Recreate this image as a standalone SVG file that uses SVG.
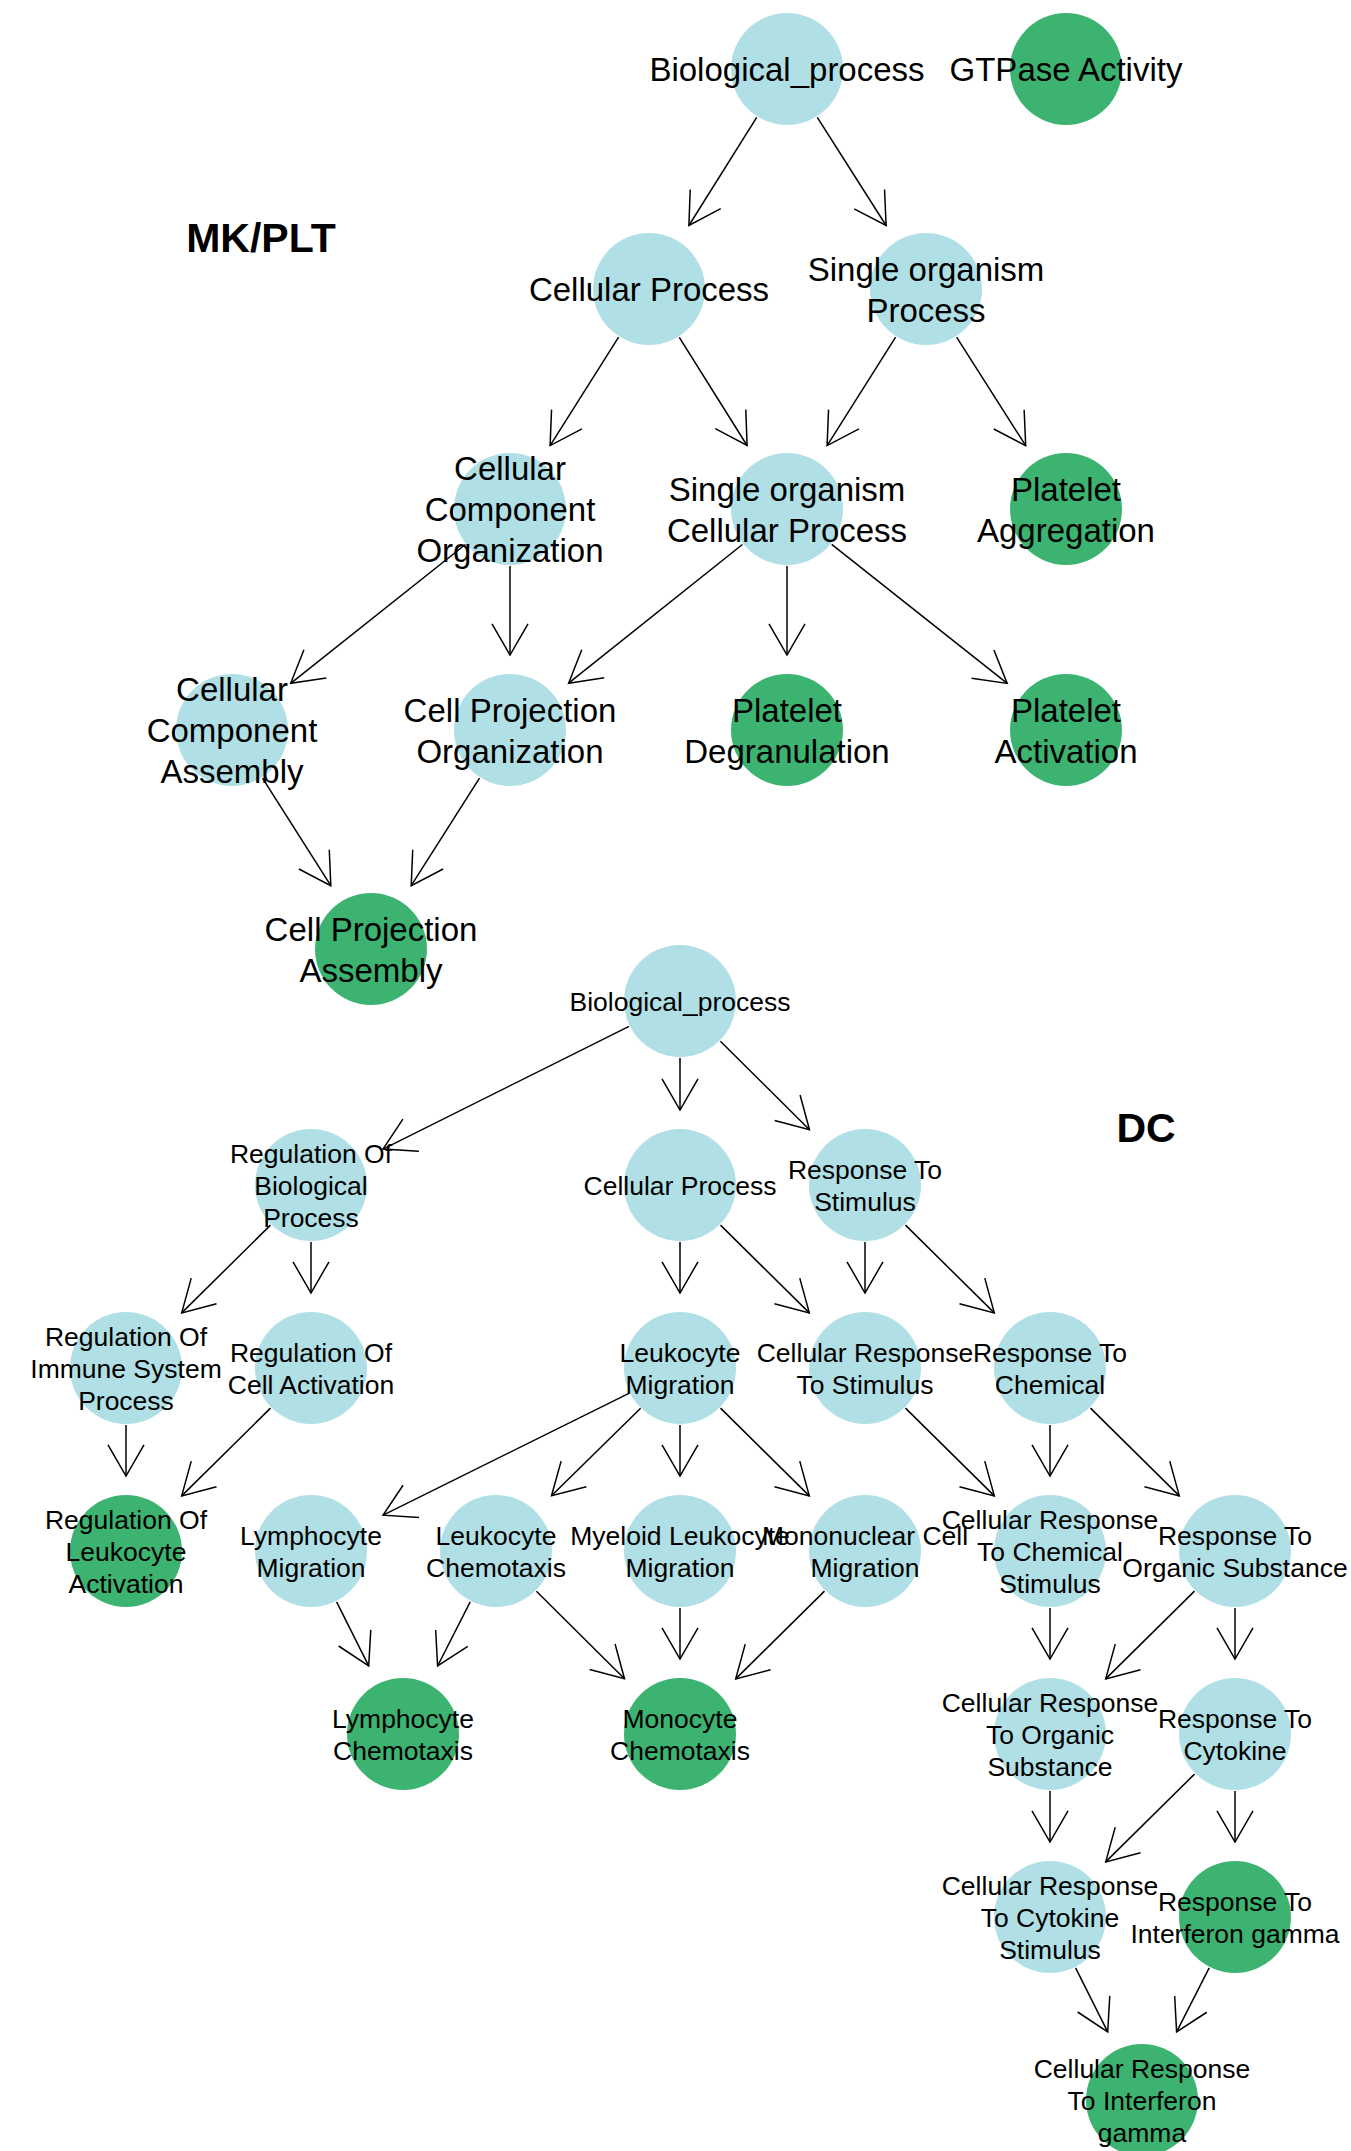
<svg xmlns="http://www.w3.org/2000/svg" width="1351" height="2151" viewBox="0 0 1351 2151">
<style>
.bl{fill:#B0E0E6}
.gr{fill:#3CB371}
text{font-family:"Liberation Sans",Arial,Helvetica,sans-serif;fill:#000;text-anchor:middle}
.t{font-size:33px}
.b{font-size:26.5px}
.h{font-size:41px;font-weight:bold}
#edges line{stroke:#000;stroke-width:1.5;fill:none;marker-end:url(#arr)}
</style>
<defs>
<marker id="arr" markerUnits="userSpaceOnUse" orient="auto" refX="0" refY="0" markerWidth="80" markerHeight="80" viewBox="-40 -40 80 80" overflow="visible">
<path d="M-31.2,-18 L0,0 L-31.2,18" fill="none" stroke="#000" stroke-width="1.5"/>
</marker>
</defs>
<rect width="1351" height="2151" fill="#fff"/>
<g id="edges">
<line x1="756.7" y1="117.3" x2="688.9" y2="225.5"/>
<line x1="817.3" y1="117.3" x2="886.1" y2="225.5"/>
<line x1="618.6" y1="337.2" x2="550.1" y2="445.6"/>
<line x1="679.3" y1="337.3" x2="747.1" y2="445.5"/>
<line x1="895.6" y1="337.2" x2="827.1" y2="445.6"/>
<line x1="956.6" y1="337.1" x2="1025.7" y2="445.7"/>
<line x1="465.4" y1="544.5" x2="290.7" y2="683.3"/>
<line x1="510" y1="566" x2="510" y2="655"/>
<line x1="742.4" y1="544.5" x2="568.6" y2="683.2"/>
<line x1="787" y1="566" x2="787" y2="655"/>
<line x1="831.7" y1="544.4" x2="1007.2" y2="683.4"/>
<line x1="262.5" y1="778.1" x2="330.8" y2="885.7"/>
<line x1="479.5" y1="778.1" x2="411.2" y2="885.7"/>
<line x1="629" y1="1026.4" x2="383" y2="1149.1"/>
<line x1="680" y1="1058" x2="680" y2="1110"/>
<line x1="720.4" y1="1041.2" x2="809.5" y2="1129.8"/>
<line x1="270.5" y1="1225.1" x2="181.7" y2="1312.9"/>
<line x1="311" y1="1242" x2="311" y2="1293"/>
<line x1="680" y1="1242" x2="680" y2="1293"/>
<line x1="720.5" y1="1225.1" x2="809.3" y2="1312.9"/>
<line x1="865" y1="1242" x2="865" y2="1293"/>
<line x1="905.5" y1="1225.1" x2="994.3" y2="1312.9"/>
<line x1="126" y1="1425" x2="126" y2="1476"/>
<line x1="270.5" y1="1408.1" x2="181.7" y2="1495.9"/>
<line x1="628.9" y1="1393.3" x2="383.1" y2="1515.2"/>
<line x1="640.6" y1="1408.2" x2="551.5" y2="1495.8"/>
<line x1="680" y1="1425" x2="680" y2="1476"/>
<line x1="720.5" y1="1408.1" x2="809.3" y2="1495.9"/>
<line x1="905.5" y1="1408.1" x2="994.3" y2="1495.9"/>
<line x1="1050" y1="1425" x2="1050" y2="1476"/>
<line x1="1090.5" y1="1408.1" x2="1179.3" y2="1495.9"/>
<line x1="336.6" y1="1601.9" x2="368.7" y2="1665.8"/>
<line x1="470.2" y1="1601.8" x2="437.6" y2="1666"/>
<line x1="536.4" y1="1591.2" x2="624.5" y2="1678.8"/>
<line x1="680" y1="1608" x2="680" y2="1659"/>
<line x1="824.5" y1="1591.1" x2="735.7" y2="1678.9"/>
<line x1="1050" y1="1608" x2="1050" y2="1659"/>
<line x1="1194.5" y1="1591.1" x2="1105.7" y2="1678.9"/>
<line x1="1235" y1="1608" x2="1235" y2="1659"/>
<line x1="1050" y1="1791" x2="1050" y2="1842"/>
<line x1="1194.5" y1="1774.1" x2="1105.7" y2="1861.9"/>
<line x1="1235" y1="1791" x2="1235" y2="1842"/>
<line x1="1075.6" y1="1967.9" x2="1107.7" y2="2031.8"/>
<line x1="1209.2" y1="1967.8" x2="1176.6" y2="2031.9"/>
</g>
<text class="h" x="261" y="252">MK/PLT</text>
<text class="h" x="1146" y="1142">DC</text>
<g id="t_bio"><circle class="bl" cx="787" cy="69" r="56"/><text class="t" x="787" y="81">Biological_process</text></g>
<g id="t_gtp"><circle class="gr" cx="1066" cy="69" r="56"/><text class="t" x="1066" y="81">GTPase Activity</text></g>
<g id="t_cp"><circle class="bl" cx="649" cy="289" r="56"/><text class="t" x="649" y="301">Cellular Process</text></g>
<g id="t_sop"><circle class="bl" cx="926" cy="289" r="56"/><text class="t"><tspan x="926" y="280.5">Single organism</tspan><tspan x="926" y="321.5">Process</tspan></text></g>
<g id="t_cco"><circle class="bl" cx="510" cy="509" r="56"/><text class="t"><tspan x="510" y="480">Cellular</tspan><tspan x="510" y="521">Component</tspan><tspan x="510" y="562">Organization</tspan></text></g>
<g id="t_socp"><circle class="bl" cx="787" cy="509" r="56"/><text class="t"><tspan x="787" y="500.5">Single organism</tspan><tspan x="787" y="541.5">Cellular Process</tspan></text></g>
<g id="t_pag"><circle class="gr" cx="1066" cy="509" r="56"/><text class="t"><tspan x="1066" y="500.5">Platelet</tspan><tspan x="1066" y="541.5">Aggregation</tspan></text></g>
<g id="t_cca"><circle class="bl" cx="232" cy="730" r="56"/><text class="t"><tspan x="232" y="701">Cellular</tspan><tspan x="232" y="742">Component</tspan><tspan x="232" y="783">Assembly</tspan></text></g>
<g id="t_cpo"><circle class="bl" cx="510" cy="730" r="56"/><text class="t"><tspan x="510" y="721.5">Cell Projection</tspan><tspan x="510" y="762.5">Organization</tspan></text></g>
<g id="t_pdg"><circle class="gr" cx="787" cy="730" r="56"/><text class="t"><tspan x="787" y="721.5">Platelet</tspan><tspan x="787" y="762.5">Degranulation</tspan></text></g>
<g id="t_pac"><circle class="gr" cx="1066" cy="730" r="56"/><text class="t"><tspan x="1066" y="721.5">Platelet</tspan><tspan x="1066" y="762.5">Activation</tspan></text></g>
<g id="t_cpa"><circle class="gr" cx="371" cy="949" r="56"/><text class="t"><tspan x="371" y="940.5">Cell Projection</tspan><tspan x="371" y="981.5">Assembly</tspan></text></g>
<g id="b_bio"><circle class="bl" cx="680" cy="1001" r="56"/><text class="b" x="680" y="1010.5">Biological_process</text></g>
<g id="b_robp"><circle class="bl" cx="311" cy="1185" r="56"/><text class="b"><tspan x="311" y="1162.5">Regulation Of</tspan><tspan x="311" y="1194.5">Biological</tspan><tspan x="311" y="1226.5">Process</tspan></text></g>
<g id="b_cp"><circle class="bl" cx="680" cy="1185" r="56"/><text class="b" x="680" y="1194.5">Cellular Process</text></g>
<g id="b_rts"><circle class="bl" cx="865" cy="1185" r="56"/><text class="b"><tspan x="865" y="1178.5">Response To</tspan><tspan x="865" y="1210.5">Stimulus</tspan></text></g>
<g id="b_risp"><circle class="bl" cx="126" cy="1368" r="56"/><text class="b"><tspan x="126" y="1345.5">Regulation Of</tspan><tspan x="126" y="1377.5">Immune System</tspan><tspan x="126" y="1409.5">Process</tspan></text></g>
<g id="b_rca"><circle class="bl" cx="311" cy="1368" r="56"/><text class="b"><tspan x="311" y="1361.5">Regulation Of</tspan><tspan x="311" y="1393.5">Cell Activation</tspan></text></g>
<g id="b_lm"><circle class="bl" cx="680" cy="1368" r="56"/><text class="b"><tspan x="680" y="1361.5">Leukocyte</tspan><tspan x="680" y="1393.5">Migration</tspan></text></g>
<g id="b_crts"><circle class="bl" cx="865" cy="1368" r="56"/><text class="b"><tspan x="865" y="1361.5">Cellular Response</tspan><tspan x="865" y="1393.5">To Stimulus</tspan></text></g>
<g id="b_rtc"><circle class="bl" cx="1050" cy="1368" r="56"/><text class="b"><tspan x="1050" y="1361.5">Response To</tspan><tspan x="1050" y="1393.5">Chemical</tspan></text></g>
<g id="b_rla"><circle class="gr" cx="126" cy="1551" r="56"/><text class="b"><tspan x="126" y="1528.5">Regulation Of</tspan><tspan x="126" y="1560.5">Leukocyte</tspan><tspan x="126" y="1592.5">Activation</tspan></text></g>
<g id="b_lym"><circle class="bl" cx="311" cy="1551" r="56"/><text class="b"><tspan x="311" y="1544.5">Lymphocyte</tspan><tspan x="311" y="1576.5">Migration</tspan></text></g>
<g id="b_lch"><circle class="bl" cx="496" cy="1551" r="56"/><text class="b"><tspan x="496" y="1544.5">Leukocyte</tspan><tspan x="496" y="1576.5">Chemotaxis</tspan></text></g>
<g id="b_mlm"><circle class="bl" cx="680" cy="1551" r="56"/><text class="b"><tspan x="680" y="1544.5">Myeloid Leukocyte</tspan><tspan x="680" y="1576.5">Migration</tspan></text></g>
<g id="b_mcm"><circle class="bl" cx="865" cy="1551" r="56"/><text class="b"><tspan x="865" y="1544.5">Mononuclear Cell</tspan><tspan x="865" y="1576.5">Migration</tspan></text></g>
<g id="b_crtcs"><circle class="bl" cx="1050" cy="1551" r="56"/><text class="b"><tspan x="1050" y="1528.5">Cellular Response</tspan><tspan x="1050" y="1560.5">To Chemical</tspan><tspan x="1050" y="1592.5">Stimulus</tspan></text></g>
<g id="b_rtos"><circle class="bl" cx="1235" cy="1551" r="56"/><text class="b"><tspan x="1235" y="1544.5">Response To</tspan><tspan x="1235" y="1576.5">Organic Substance</tspan></text></g>
<g id="b_lcx"><circle class="gr" cx="403" cy="1734" r="56"/><text class="b"><tspan x="403" y="1727.5">Lymphocyte</tspan><tspan x="403" y="1759.5">Chemotaxis</tspan></text></g>
<g id="b_mcx"><circle class="gr" cx="680" cy="1734" r="56"/><text class="b"><tspan x="680" y="1727.5">Monocyte</tspan><tspan x="680" y="1759.5">Chemotaxis</tspan></text></g>
<g id="b_crtos"><circle class="bl" cx="1050" cy="1734" r="56"/><text class="b"><tspan x="1050" y="1711.5">Cellular Response</tspan><tspan x="1050" y="1743.5">To Organic</tspan><tspan x="1050" y="1775.5">Substance</tspan></text></g>
<g id="b_rtcy"><circle class="bl" cx="1235" cy="1734" r="56"/><text class="b"><tspan x="1235" y="1727.5">Response To</tspan><tspan x="1235" y="1759.5">Cytokine</tspan></text></g>
<g id="b_crtcys"><circle class="bl" cx="1050" cy="1917" r="56"/><text class="b"><tspan x="1050" y="1894.5">Cellular Response</tspan><tspan x="1050" y="1926.5">To Cytokine</tspan><tspan x="1050" y="1958.5">Stimulus</tspan></text></g>
<g id="b_rtig"><circle class="gr" cx="1235" cy="1917" r="56"/><text class="b"><tspan x="1235" y="1910.5">Response To</tspan><tspan x="1235" y="1942.5">Interferon gamma</tspan></text></g>
<g id="b_crtig"><circle class="gr" cx="1142" cy="2100" r="56"/><text class="b"><tspan x="1142" y="2077.5">Cellular Response</tspan><tspan x="1142" y="2109.5">To Interferon</tspan><tspan x="1142" y="2141.5">gamma</tspan></text></g>
</svg>
